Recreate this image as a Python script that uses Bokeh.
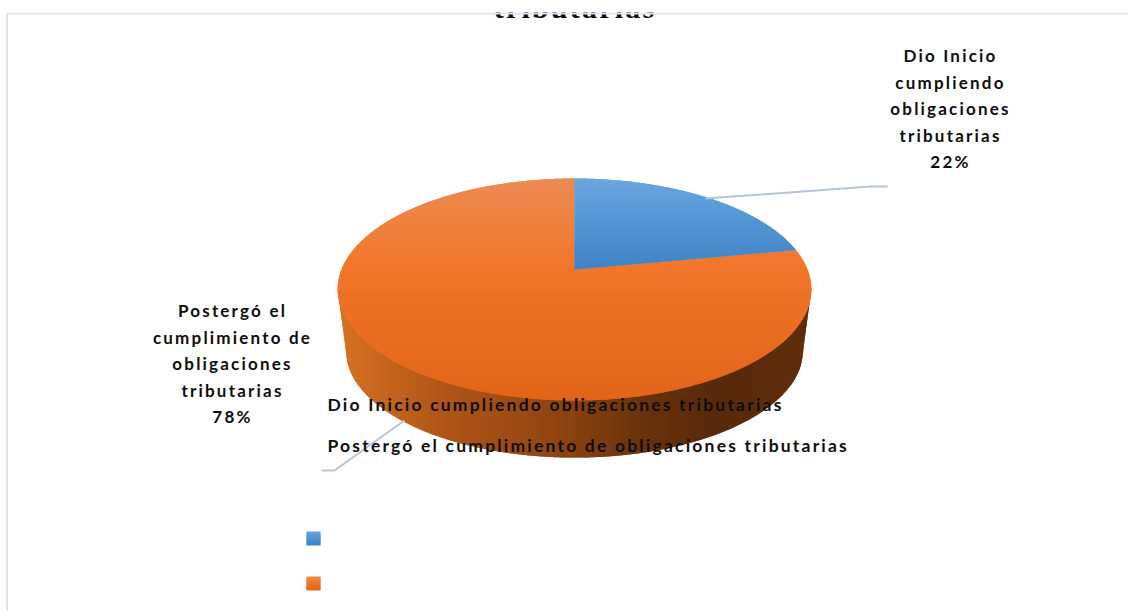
from bokeh.core.properties import value
from bokeh.embed import file_html
from bokeh.models import Range1d
from bokeh.plotting import figure
from bokeh.resources import INLINE
from jinja2 import Template
import math

# Shares of the pie, in percent
categories = ["Dio Inicio cumpliendo obligaciones tributarias",
              "Postergó el cumplimiento de obligaciones tributarias"]
shares = [22, 78]
label_lines = [["Dio Inicio", "cumpliendo", "obligaciones", "tributarias", "22%"],
               ["Postergó el", "cumplimiento de", "obligaciones", "tributarias", "78%"]]
title_tail = "tributarias"

WIDTH, HEIGHT = 1128, 611
FRAME_TOP = 12  # the plot area starts here, so the title's upper part is clipped away
TRACKING = 2.2  # letter spacing in px, set on the page and inherited by the svg text

# Perspective pie: apex, half width, and foreshortening of the front/back halves
APEX_X, APEX_Y = 574.0, 269.0
HALF_W, Y_SCALE, TILT = 233.0, 107.4, 0.18
DEPTH_SCALE, DEPTH_Y = 0.965, 61.0


def project(theta):
    """Disc angle (clockwise from 12 o'clock) to page position on the top face."""
    d = 1 + TILT * math.cos(theta)
    return APEX_X + HALF_W * math.sin(theta) / d, APEX_Y - Y_SCALE * math.cos(theta) / d


def mix(stops, t):
    t = max(0.0, min(1.0, t))
    for (a, ca), (b, cb) in zip(stops, stops[1:]):
        if t <= b:
            f = (t - a) / (b - a)
            rgb = [round(x + (y - x) * f) for x, y in zip(ca, cb)]
            return "#%02x%02x%02x" % tuple(rgb)
    return "#%02x%02x%02x" % tuple(stops[-1][1])


def clip_half(poly, limit, keep_above):
    """One half-plane step of polygon clipping against a horizontal line."""
    out = []
    inside = (lambda p: p[1] >= limit) if keep_above else (lambda p: p[1] <= limit)
    for i, cur in enumerate(poly):
        prev = poly[i - 1]
        if inside(cur) != inside(prev):
            f = (limit - prev[1]) / (cur[1] - prev[1])
            out.append((prev[0] + (cur[0] - prev[0]) * f, limit))
        if inside(cur):
            out.append(cur)
    return out


def bands(poly, y0, y1, stops):
    """One-pixel rows of a polygon, each overlapped by the next to hide seams."""
    xs, ys, colors = [], [], []
    first, last = math.floor(y0), math.ceil(y1)
    for row in range(first, last):
        piece = clip_half(clip_half(poly, row, True), row + 2, False)
        if len(piece) >= 3:
            xs.append([q[0] for q in piece])
            ys.append([q[1] for q in piece])
            colors.append(mix(stops, (row + 0.5 - first) / (last - first)))
    return xs, ys, colors


def spaced_x(center, text):
    """Left edge that centres a tracked line on the given x."""
    return center - len(text) * TRACKING / 2


p = figure(width=WIDTH, height=HEIGHT, output_backend="svg", toolbar_location=None,
           x_range=Range1d(0, WIDTH), y_range=Range1d(HEIGHT, FRAME_TOP),
           min_border=0, min_border_top=FRAME_TOP, outline_line_color=None,
           background_fill_color="white", border_fill_color="white")
p.axis.visible = False
p.grid.visible = False

# Title: only the lower part of its last line falls inside the plot area
p.text([spaced_x(574.5, title_tail)], [23], text=[title_tail], text_font=value("Liberation Serif"),
       text_font_style="bold", text_font_size="30px", text_align="center",
       text_baseline="bottom", text_color="#0d0d0d")

# Frame
p.line([6.5, 6.5, WIDTH], [HEIGHT, 13, 13], line_color="#dfe5ef", line_width=2)

# Rim: vertical strips between the widest line of the top face and the lower edge
samples = [i * 2 * math.pi / 1440 for i in range(1440)]
top_edge = [project(t) for t in samples]
cy_top = (project(0)[1] + project(math.pi)[1]) / 2

rim_stops = [(0.0, (214, 115, 35)), (0.22, (176, 86, 24)), (0.45, (146, 70, 17)),
             (0.65, (104, 50, 12)), (0.8, (88, 42, 10)), (1.0, (96, 46, 11))]
x_left, x_right = min(q[0] for q in top_edge), max(q[0] for q in top_edge)
low_half = abs(x_left - APEX_X) * DEPTH_SCALE
low_cy = cy_top + DEPTH_Y
low_ry = (project(math.pi)[1] - cy_top) * DEPTH_SCALE


def rim_bottom(x):
    """Lower outline of the rim: straight sides, then the lower ellipse."""
    dist = abs(x - APEX_X)
    if dist >= low_half:
        span = abs(x_left - APEX_X) - low_half
        return cy_top + DEPTH_Y * (abs(x_left - APEX_X) - dist) / span
    return low_cy + low_ry * math.sqrt(1 - (dist / low_half) ** 2)


rim_xs, rim_ys, rim_cols = [], [], []
first_col = math.floor(x_left)
last_col = math.ceil(x_right)
for col in range(first_col, last_col):
    a, b = max(col, x_left), min(col + 2, x_right)
    rim_xs.append([a, b, b, a])
    rim_ys.append([cy_top, cy_top, rim_bottom(b), rim_bottom(a)])
    rim_cols.append(mix(rim_stops, (col - first_col) / (last_col - first_col)))
p.patches(rim_xs, rim_ys, fill_color=rim_cols, line_color=None)

# Top face: each slice follows its share of the circle
face_stops = [
    [(0.0, (110, 165, 220)), (0.45, (84, 150, 214)), (1.0, (64, 131, 195))],
    [(0.0, (237, 138, 84)), (0.42, (241, 118, 42)), (1.0, (226, 101, 24))],
]
start = 0.0
boundaries = []
for share in shares:
    boundaries.append((start, start + share / sum(shares) * 2 * math.pi))
    start = boundaries[-1][1]

# Orange slice first, with the blue wedge drawn after it
for idx in (1, 0):
    a0, a1 = boundaries[idx]
    n_arc = max(8, int((a1 - a0) * 120))
    wedge = [(APEX_X, APEX_Y)] + [project(a0 + (a1 - a0) * k / n_arc) for k in range(n_arc + 1)]
    ys_of = [q[1] for q in wedge]
    xs, ys, cols = bands(wedge, min(ys_of), max(ys_of), face_stops[idx])
    p.patches(xs, ys, fill_color=cols, line_color=None)

# Leader lines
p.line([705, 870, 887], [198, 186, 186], line_color="#b5c4d8", line_width=2)
p.line([404, 334, 321], [420, 470, 470], line_color="#b5c4d8", line_width=2)

# Data labels
LINE_H = 26.5
label_pos = [(950, 55), (232, 310)]
for lines, (lx, ly) in zip(label_lines, label_pos):
    p.text([spaced_x(lx, t) for t in lines], [ly + i * LINE_H for i in range(len(lines))], text=lines,
           text_font=value("Lato"), text_font_style="bold", text_font_size="17px",
           text_align="center", text_baseline="middle", text_color="#0d0d0d")

# Legend entries; their keys sit lower on the page
p.text([327, 327], [403.5, 444.5], text=categories, text_font=value("Lato"), text_font_style="bold",
       text_font_size="17.5px", text_align="left", text_baseline="middle", text_color="#0d0d0d")
for (y0, col_stops) in zip((531, 576), face_stops):
    xs, ys, cols = bands([(306, y0), (320, y0), (320, y0 + 14), (306, y0 + 14)], y0, y0 + 13, col_stops)
    p.patches(xs, ys, fill_color=cols, line_color=None)

page = Template("""<!DOCTYPE html>
<html><head><meta charset="utf-8">{{ bokeh_css }}{{ bokeh_js }}
<style>html,body{margin:0;padding:0;letter-spacing:""" + str(TRACKING) + """px;background:#fff}</style></head>
<body>{{ plot_div }}{{ plot_script }}</body></html>""")
open("out.html", "w").write(file_html(p, INLINE, template=page))
